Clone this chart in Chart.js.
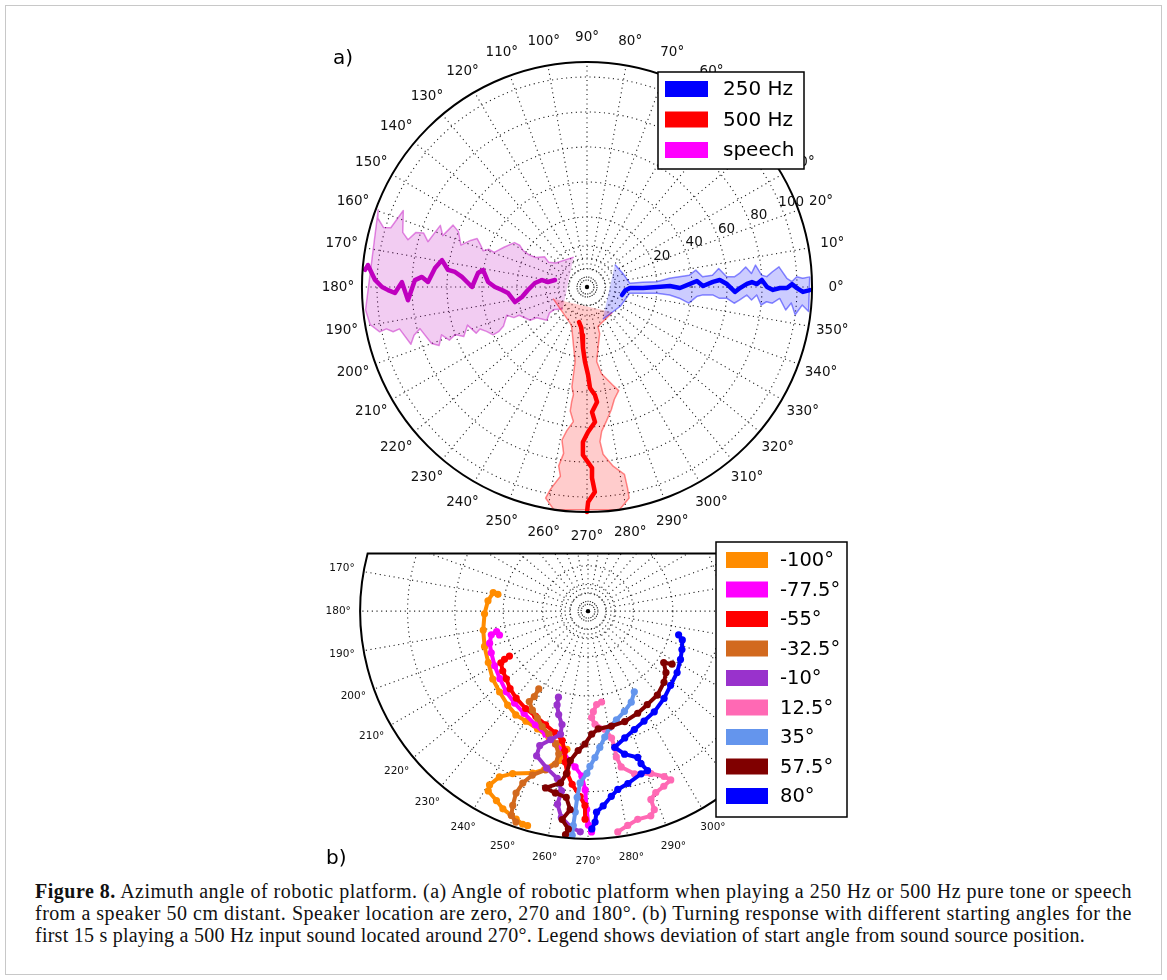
<!DOCTYPE html>
<html>
<head>
<meta charset="utf-8">
<script src="https://cdn.jsdelivr.net/npm/chart.js@4.4.0/dist/chart.umd.min.js"></script>
<style>
	body { margin: 0; background: #fff; width: 1167px; height: 980px; position: relative; overflow: hidden; }
	#frame { position: absolute; left: 5px; top: 5px; width: 1155px; height: 968px; border: 1px solid #c8c8c8; }
	canvas { position: absolute; }
	#polarA { left: 300px; top: 0; }
	#polarB { left: 300px; top: 530px; }
	.panel { position: absolute; font-family: "DejaVu Sans"; font-size: 20px; line-height: 24px; color: #000; }
	#caption { position: absolute; left: 35px; top: 880px; font-family: "Liberation Serif", serif; font-size: 20px; line-height: 22px; color: #111; }
	#caption div { white-space: nowrap; width: max-content; }
</style>
</head>
<body>
<div id="frame"></div>
<canvas id="polarA" width="580" height="548"></canvas>
<canvas id="polarB" width="580" height="345"></canvas>
<div class="panel" style="left:333px;top:45px">a)</div>
<div class="panel" style="left:326px;top:845px">b)</div>
<div id="caption">
	<div><b>Figure 8.</b> Azimuth angle of robotic platform. (a) Angle of robotic platform when playing a 250 Hz or 500 Hz pure tone or speech</div>
	<div>from a speaker 50 cm distant. Speaker location are zero, 270 and 180°. (b) Turning response with different starting angles for the</div>
	<div>first 15 s playing a 500 Hz input sound located around 270°. Legend shows deviation of start angle from sound source position.</div>
</div>
<script>
// ---- panel a: radial value, mean azimuth and band limits (deg)
const lowToneR = [0.5, 2, 4.6, 12, 20, 27.4, 33.1, 38.9, 42.9, 46.3, 52, 56, 60, 64.6, 67.4, 71.4, 74.3, 77.1, 80, 82.9, 86.3, 90.3, 94.3, 97.1, 100, 103.4, 107.4];
const lowToneMean = [-12.9, -5, -1.3, -1.0, 0, 0.7, -0.6, 1.7, 3.1, 0.5, 2.3, 3.0, 1.2, -1.9, -0.4, 1.1, 1.7, 1.0, 2.3, 0, -0.9, -0.3, -0.3, 0.8, -0.3, -1.3, -0.8];
const lowToneLo = [-64, -30, -8.3, -6.4, -5.1, -5.5, -6.9, -9.0, -5.0, -3.9, -3.6, -4.9, -4.6, -6.3, -4.9, -2.9, -4.5, -2.7, -5.9, -4.7, -5.0, -3.4, -6.6, -4.5, -7.6, -4.8, -6.3];
const lowToneHi = [39, 20, 4.9, 4.8, 4.3, 6.0, 6.3, 6.6, 8.8, 5.1, 5.4, 8.0, 4.2, 4.0, 5.1, 7.2, 4.7, 7.4, 3.9, 3.3, 4.7, 6.0, 2.5, 1.5, 2.8, 2.3, 2.6];

const highToneR = [0.5, 3.4, 7.6, 14.9, 22.9, 30.3, 37.7, 41.9, 46, 51.5, 57.3, 62.9, 68.6, 76, 83.5, 89.2, 97.2, 102.9, 108.6];
const highToneMean = [257.1, 262, 264.1, 266.2, 268.5, 270.7, 271.7, 274.2, 275, 272.3, 273.4, 270.4, 268.5, 268.6, 271.6, 271.5, 272.2, 270.3, 270];
const highToneLo = [199, 247.5, 252.3, 257.3, 260.9, 261.2, 261.4, 262.8, 262.4, 262.3, 264.2, 262, 260.7, 262, 261, 262, 259.8, 258.9, 261.5];
const highToneHi = [315, 285.5, 285.2, 280.5, 277.4, 279.5, 284.6, 287, 283.7, 281.2, 278.3, 275.8, 274.8, 275.5, 278.3, 281.3, 281.4, 281.3, 278.3];

const speechR = [-1.3, 2.5, 6, 9.8, 13.8, 17.6, 22, 25.3, 28.6, 32.6, 36.6, 40.2, 42.8, 45.7, 48.6, 51.7, 55.9, 60, 64.3, 67.5, 70.9, 74.5, 78.4, 82.6, 85.8, 89.8, 93.7, 97.1, 101.2, 105.8, 107.2];
const speechMean = [167.7, 172.7, 171.2, 175.6, 182.9, 188.7, 191.8, 184.3, 182, 180, 177.1, 170.7, 172.7, 180, 177.6, 175.4, 173.5, 173, 169.5, 172.9, 178.2, 176.5, 177.7, 184.2, 178.5, 181.8, 180.9, 180, 178.1, 174.3, 175.6];
const speechLo = [114, 142.4, 147.2, 144.6, 150.1, 151, 150.3, 148.2, 148.5, 154.4, 159.5, 159, 160.8, 158.2, 156.2, 158.2, 161.6, 156.7, 155.2, 160.4, 157.2, 164.1, 161.7, 162.3, 165.2, 163.5, 157.4, 163.2, 163.7, 161.8, 159.7];
const speechHi = [222, 214.7, 214.6, 219.6, 211.4, 210.3, 202.6, 202.7, 199.4, 205, 206.8, 207, 203.8, 201.4, 202.6, 197.7, 201.9, 199.8, 201.1, 198.2, 201.6, 200, 194, 195.6, 198, 192.6, 193, 191.8, 192.2, 189.8, 185.9];

const angleTicksA = [0, 10, 20, 30, 40, 50, 60, 70, 80, 90, 100, 110, 120, 130, 140, 150, 160, 170, 180, 190, 200, 210, 220, 230, 240, 250, 260, 270, 280, 290, 300, 310, 320, 330, 340, 350];
const radialTicksA = [20, 40, 60, 80, 100];
const ringsA = [-9.7, -3.4, 3.4, 20, 40, 60, 80, 100];
const denseRingsA = [-16, -14.3];
const A_RMIN = -20;
const A_RMAX = 108.6;

// ---- panel b: trajectories (radius, azimuth deg) per start deviation
const trackLabels = ["-100°", "-77.5°", "-55°", "-32.5°", "-10°", "12.5°", "35°", "57.5°", "80°"];
const trackColors = ["#ff8c00", "#ff00ff", "#ff0000", "#d2691e", "#9932cc", "#ff69b4", "#6495ed", "#800000", "#0000ff"];

const trackM100R = [9.3, 9.8, 10.2, 10.5, 10.8, 11.1, 11.4, 11.9, 12.2, 12.6, 12.9, 12.9, 13.1, 13.5, 13.9, 14.3, 15.6, 16.8, 17.5, 18.3, 19.2, 20.4, 21.0, 21.5, 22.0, 22.3, 22.5, 22.8, 22.8];
const trackM100T = [169.3, 168.8, 174, 181.5, 190.3, 199, 207.5, 215.7, 222.7, 229.7, 235.4, 240.8, 247, 252.9, 257.7, 261.4, 259, 254.8, 251.3, 245.3, 242.1, 240.7, 241.2, 244.4, 246.9, 249.6, 251.1, 253.1, 254.4];
const trackM77R = [9.3, 9.5, 10.1, 10.5, 10.7, 11.0, 11.3, 11.7, 12.0, 12.3, 12.8, 13.3, 14.0, 14.6, 15.4, 16.0, 16.9, 18.3, 20.3, 21.9, 22.6];
const trackM77T = [195.2, 192.7, 193.9, 198.2, 203.5, 210.6, 217.7, 224.9, 231.6, 238.2, 245.4, 251.2, 256.4, 260.3, 262.6, 265.3, 267.9, 269.1, 269.6, 270.1, 270.9];
const trackM55R = [9.2, 9.8, 10.3, 10.6, 10.8, 11.2, 11.5, 11.8, 12.0, 12.4, 12.9, 13.5, 14.5, 15.6, 16.7, 17.8, 19.0, 19.9, 21.3];
const trackM55T = [210, 210.2, 210.9, 215.3, 219.9, 225.1, 230.7, 237.6, 243.8, 249.7, 255.1, 258.8, 260.6, 261.5, 262.7, 264.8, 267.6, 269.1, 269.2];
const trackM32R = [9.4, 10.3, 11.0, 11.6, 12.1, 12.7, 13.2, 14.0, 14.9, 16.0, 16.8, 17.7, 18.8, 20.0, 21.3, 22.3, 22.8];
const trackM32T = [237.9, 238.1, 237.2, 240.9, 244.9, 248.5, 252.5, 256.4, 258.5, 258.1, 255.2, 251.4, 249.4, 248.6, 249, 249.6, 251.3];
const trackM10R = [9.3, 10.1, 11.0, 11.9, 12.9, 13.7, 14.6, 15.7, 16.6, 17.4, 18.6, 20.0, 21.3, 22.2, 22.6];
const trackM10T = [251.2, 251.9, 254.3, 257.2, 257.5, 253.9, 250.4, 250.6, 255.4, 259.7, 261.7, 261.1, 262.7, 265.6, 268];
const trackP12R = [9.4, 9.6, 10.3, 10.9, 11.6, 12.2, 13.2, 14.2, 15.2, 16.3, 17.3, 17.8, 18.6, 19.2, 19.5, 19.8, 20.3, 21.4, 21.9, 21.9, 22.3, 22.8];
const trackP12T = [278.4, 275.2, 273, 271.9, 273.5, 278, 280.4, 281, 280.9, 281.9, 285.8, 291, 294.5, 295.9, 293.2, 290.3, 288.3, 288.3, 286.9, 283.3, 280.4, 277.6];
const trackP35R = [9.5, 10.3, 10.9, 11.5, 12.1, 13.0, 14.0, 15.0, 15.9, 16.6, 17.6, 19.1, 20.6, 22.0, 23.0];
const trackP35T = [299.6, 295.2, 289.8, 284.5, 280.4, 277.5, 274.9, 272.7, 270.7, 269.6, 267.4, 266.7, 266.4, 266.1, 266];
const trackP57R = [10.1, 9.3, 10.1, 10.6, 11.1, 11.3, 11.6, 11.9, 12.0, 12.1, 12.6, 13.6, 14.3, 15.4, 16.8, 17.8, 18.6, 18.9, 19.2, 20.4, 21.5, 22.4, 23.0];
const trackP57T = [327.5, 325.6, 321.5, 316.6, 309.3, 302.1, 295.7, 288.2, 281.4, 274.9, 271.7, 268.7, 266, 263.3, 262.5, 261, 256.6, 259.9, 263.4, 264.9, 263, 264.9, 264.3];
const trackP80R = [9.5, 10.0, 10.3, 10.6, 11.0, 11.3, 11.8, 12.3, 12.6, 13.0, 13.5, 14.2, 15.1, 15.8, 16.5, 17.4, 17.5, 18.1, 18.5, 19.1, 20.0, 20.6, 21.6, 22.3];
const trackP80T = [345.2, 342.9, 337.6, 332.2, 325.2, 317.8, 310.8, 303.1, 296.8, 291.2, 286, 281, 284.2, 288.6, 289, 290.3, 287.9, 282.9, 279.4, 277.1, 274.4, 272.4, 271.9, 271];

const angleTicksB = [170, 180, 190, 200, 210, 220, 230, 240, 250, 260, 270, 280, 290, 300];
const ringsB = [1.8, 2.7, 4.6, 8.6, 13.5, 18.3];
const denseRingsB = [0.7, 1.0];
const B_RMAX = 23.1;

const toXY = (r, deg) => {
	const a = (deg * Math.PI) / 180;
	return { x: r * Math.cos(a), y: r * Math.sin(a) };
};

const geometry = (chart) => {
	const { x, y } = chart.scales;
	const cx = x.getPixelForValue(0);
	const cy = y.getPixelForValue(0);
	return { cx, cy, k: x.getPixelForValue(1) - cx };
};

const drawLegend = (ctx, lg) => {
	ctx.save();
	ctx.setLineDash([]);
	ctx.fillStyle = "#fff";
	ctx.fillRect(lg.x, lg.y, lg.w, lg.h);
	ctx.strokeStyle = "#000";
	ctx.lineWidth = 1.5;
	ctx.strokeRect(lg.x, lg.y, lg.w, lg.h);
	ctx.font = lg.font;
	ctx.textAlign = "left";
	ctx.textBaseline = "middle";
	lg.items.forEach((item, i) => {
		const rowY = lg.firstRow + i * lg.rowStep;
		ctx.fillStyle = item.color;
		ctx.fillRect(lg.patchX, rowY - lg.patchH / 2, lg.patchW, lg.patchH);
		ctx.fillStyle = "#000";
		ctx.fillText(item.text, lg.textX, rowY + 1);
	});
	ctx.restore();
};

const makePolarFrame = (cfg) => ({
	id: "polarFrame",
	beforeDatasetsDraw(chart) {
		const { ctx } = chart;
		const { cx, cy, k } = geometry(chart);
		ctx.save();
		ctx.beginPath();
		ctx.arc(cx, cy, cfg.outer * k, 0, Math.PI * 2);
		ctx.clip();
		if (cfg.cutY !== undefined) {
			const top = chart.scales.y.getPixelForValue(cfg.cutY);
			ctx.beginPath();
			ctx.rect(0, top, chart.width, chart.height - top);
			ctx.clip();
		}
		ctx.strokeStyle = "#1a1a1a";
		ctx.lineWidth = 1.1;
		ctx.setLineDash([1.1, 3.6]);
		cfg.rings.forEach((r) => {
			ctx.beginPath();
			ctx.arc(cx, cy, r * k, 0, Math.PI * 2);
			ctx.stroke();
		});
		cfg.spokes.forEach((deg) => {
			const p0 = toXY(cfg.spokeFrom * k, deg);
			const p1 = toXY(cfg.outer * k, deg);
			ctx.beginPath();
			ctx.moveTo(cx + p0.x, cy - p0.y);
			ctx.lineTo(cx + p1.x, cy - p1.y);
			ctx.stroke();
		});
		ctx.setLineDash([1.2, 1.2]);
		cfg.denseRings.forEach((r) => {
			ctx.beginPath();
			ctx.arc(cx, cy, r * k, 0, Math.PI * 2);
			ctx.stroke();
		});
		ctx.setLineDash([]);
		ctx.fillStyle = "#000";
		ctx.beginPath();
		ctx.arc(cx, cy, 2.2, 0, Math.PI * 2);
		ctx.fill();
		ctx.restore();
	},
	afterDatasetsDraw(chart) {
		const { ctx } = chart;
		const { cx, cy, k } = geometry(chart);
		const R = cfg.outer * k;
		ctx.save();
		ctx.strokeStyle = "#000";
		ctx.lineWidth = 2;
		ctx.beginPath();
		if (cfg.cutY === undefined) {
			ctx.arc(cx, cy, R, 0, Math.PI * 2);
		} else {
			const h = cy - chart.scales.y.getPixelForValue(cfg.cutY);
			const a0 = Math.asin(h / R);
			ctx.arc(cx, cy, R, -a0, Math.PI + a0, false);
			ctx.closePath();
		}
		ctx.stroke();

		ctx.fillStyle = "#111";
		ctx.font = cfg.labelFont;
		ctx.textAlign = "center";
		ctx.textBaseline = "middle";
		cfg.angleTicks.forEach((deg) => {
			const p = toXY(R + cfg.labelGap, deg);
			ctx.fillText(deg + "°", cx + p.x, cy - p.y);
		});
		(cfg.radialTicks || []).forEach((v) => {
			const p = toXY((v - cfg.rmin) * k + cfg.radialGap, cfg.radialAngle);
			ctx.fillText(String(v), cx + p.x, cy - p.y);
		});
		ctx.restore();
		drawLegend(ctx, cfg.legend);
	},
});

const baseOptions = (xMin, xMax, yMin, yMax) => ({
	responsive: false,
	animation: false,
	devicePixelRatio: 1,
	events: [],
	layout: { padding: 0 },
	plugins: { legend: { display: false }, tooltip: { enabled: false } },
	elements: { line: { tension: 0 } },
	scales: {
		x: { type: "linear", display: false, min: xMin, max: xMax, bounds: "data" },
		y: { type: "linear", display: false, min: yMin, max: yMax, bounds: "data" },
	},
});

// ---- panel a
const seriesA = [
	{ label: "250 Hz", rad: lowToneR, mean: lowToneMean, lo: lowToneLo, hi: lowToneHi, rgb: "0,0,255", line: "rgb(0,0,255)", patch: "#0000ff" },
	{ label: "500 Hz", rad: highToneR, mean: highToneMean, lo: highToneLo, hi: highToneHi, rgb: "255,0,0", line: "rgb(255,0,0)", patch: "#ff0000" },
	{ label: "speech", rad: speechR, mean: speechMean, lo: speechLo, hi: speechHi, rgb: "191,0,191", line: "rgb(191,0,191)", patch: "#ff00ff" },
];

const bandPoints = (s) => {
	const upper = s.rad.map((v, i) => toXY(v - A_RMIN, s.hi[i]));
	const lower = s.rad.map((v, i) => toXY(v - A_RMIN, s.lo[i])).reverse();
	return upper.concat(lower);
};

const datasetsA = [];
seriesA.forEach((s) => {
	datasetsA.push({
		label: s.label + " band",
		data: bandPoints(s),
		showLine: true,
		fill: "shape",
		backgroundColor: "rgba(" + s.rgb + ",0.2)",
		borderColor: "rgba(" + s.rgb + ",0.45)",
		borderWidth: 1.5,
		borderJoinStyle: "round",
		pointRadius: 0,
		order: 1,
	});
});
seriesA.forEach((s) => {
	datasetsA.push({
		label: s.label,
		data: s.rad.map((v, i) => toXY(v - A_RMIN, s.mean[i])),
		showLine: true,
		fill: false,
		borderColor: s.line,
		borderWidth: 4.5,
		borderJoinStyle: "round",
		borderCapStyle: "round",
		pointRadius: 0,
		order: 0,
	});
});

const A_PX = 1.75;
const chartA = new Chart(document.getElementById("polarA"), {
	type: "scatter",
	data: { datasets: datasetsA },
	options: baseOptions(-287 / A_PX, 293 / A_PX, -261 / A_PX, 287 / A_PX),
	plugins: [
		makePolarFrame({
			outer: A_RMAX - A_RMIN,
			rmin: A_RMIN,
			rings: ringsA.map((v) => v - A_RMIN),
			denseRings: denseRingsA.map((v) => v - A_RMIN),
			spokes: angleTicksA,
			spokeFrom: -9.7 - A_RMIN,
			angleTicks: angleTicksA,
			labelGap: 24,
			labelFont: "13.5px 'DejaVu Sans'",
			radialTicks: radialTicksA,
			radialAngle: 22.5,
			radialGap: 11,
			legend: {
				x: 358, y: 72, w: 146, h: 97,
				patchX: 365, patchW: 43, patchH: 16,
				firstRow: 89, rowStep: 30.5, textX: 423,
				font: "20px 'DejaVu Sans'",
				items: seriesA.map((s) => ({ text: s.label, color: s.patch })),
			},
		}),
	],
});

// ---- panel b
const tracksB = [
	[trackM100R, trackM100T],
	[trackM77R, trackM77T],
	[trackM55R, trackM55T],
	[trackM32R, trackM32T],
	[trackM10R, trackM10T],
	[trackP12R, trackP12T],
	[trackP35R, trackP35T],
	[trackP57R, trackP57T],
	[trackP80R, trackP80T],
];

const datasetsB = tracksB.map(([rad, theta], i) => ({
	label: trackLabels[i],
	data: rad.map((r, j) => toXY(r, theta[j])),
	showLine: true,
	fill: false,
	borderColor: trackColors[i],
	borderWidth: 4,
	borderJoinStyle: "round",
	borderCapStyle: "round",
	pointRadius: 3.6,
	pointBackgroundColor: trackColors[i],
	pointBorderWidth: 0,
	order: tracksB.length - i,
}));

const B_PX = 10;
const chartB = new Chart(document.getElementById("polarB"), {
	type: "scatter",
	data: { datasets: datasetsB },
	options: baseOptions(-288 / B_PX, 292 / B_PX, -266 / B_PX, 79 / B_PX),
	plugins: [
		makePolarFrame({
			outer: B_RMAX,
			rmin: 0,
			cutY: 59 / B_PX,
			rings: ringsB,
			denseRings: denseRingsB,
			spokes: angleTicksA,
			spokeFrom: 1.8,
			angleTicks: angleTicksB,
			labelGap: 22,
			labelFont: "10.5px 'DejaVu Sans'",
			legend: {
				x: 416, y: 12, w: 131, h: 275,
				patchX: 426, patchW: 42, patchH: 16,
				firstRow: 30, rowStep: 29.5, textX: 480,
				font: "19.5px 'DejaVu Sans'",
				items: trackLabels.map((t, i) => ({ text: t, color: trackColors[i] })),
			},
		}),
	],
});

// caption lines stretched to the printed widths
const captionWidths = [1097, 1097, 1050];
document.querySelectorAll("#caption div").forEach((el, i) => {
	const chars = el.textContent.length;
	const extra = captionWidths[i] - el.getBoundingClientRect().width;
	el.style.letterSpacing = extra / chars + "px";
});
</script>
</body>
</html>
